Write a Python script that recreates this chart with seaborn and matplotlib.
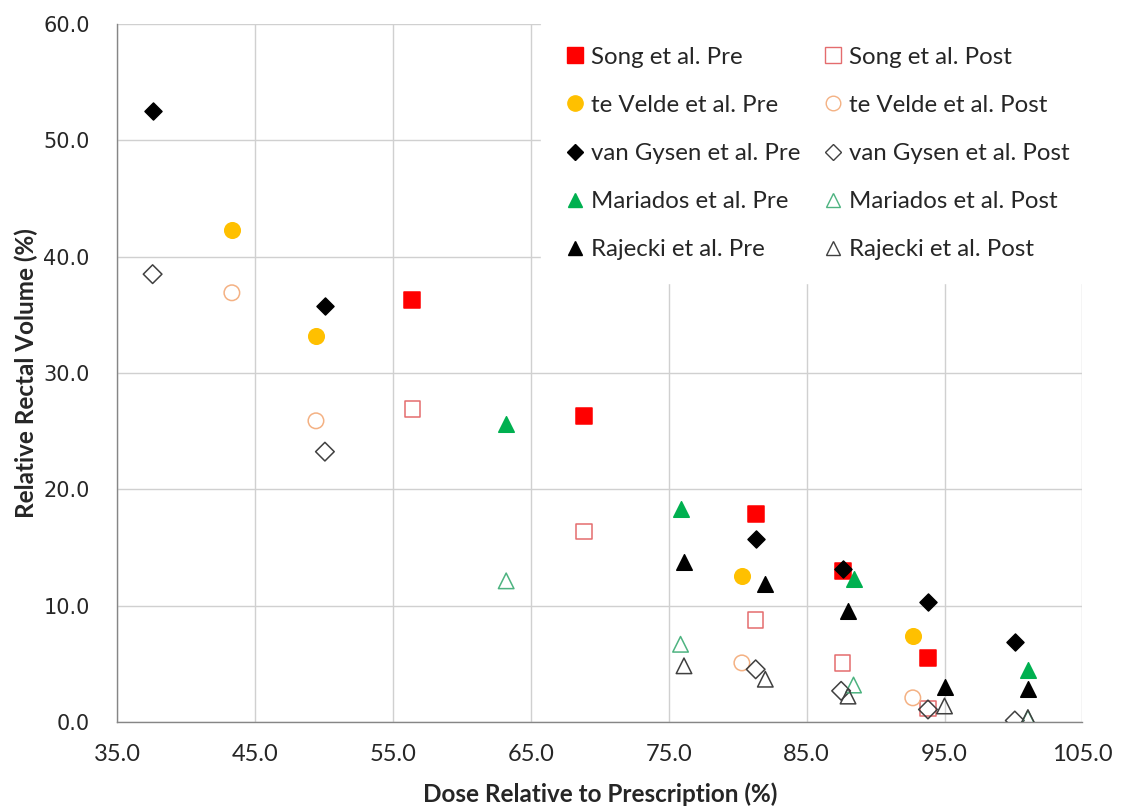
import matplotlib
matplotlib.use("Agg")
import matplotlib.pyplot as plt
import seaborn as sns
import pandas as pd
from matplotlib.lines import Line2D

# ---- data ----
song_pre_x = [56.4, 68.85, 81.3, 87.6, 93.8]
song_pre_y = [36.25, 26.3, 17.9, 13.0, 5.5]
song_post_x = [56.4, 68.85, 81.3, 87.6, 93.8]
song_post_y = [26.9, 16.4, 8.8, 5.1, 1.2]

velde_pre_x = [43.3, 49.4, 80.3, 92.7]
velde_pre_y = [42.3, 33.2, 12.6, 7.4]
velde_post_x = [43.3, 49.4, 80.3, 92.7]
velde_post_y = [36.9, 25.9, 5.1, 2.1]

gysen_pre_x = [37.55, 50.05, 81.3, 87.6, 93.8, 100.1]
gysen_pre_y = [52.5, 35.8, 15.75, 13.15, 10.3, 6.9]
gysen_post_x = [37.55, 50.05, 81.3, 87.5, 93.8, 100.1]
gysen_post_y = [38.5, 23.25, 4.55, 2.7, 1.1, 0.15]

mariados_pre_x = [63.2, 75.85, 88.4, 101.05]
mariados_pre_y = [25.6, 18.3, 12.3, 4.5]
mariados_post_x = [63.2, 75.85, 88.4, 101.05]
mariados_post_y = [12.15, 6.7, 3.2, 0.35]

rajecki_pre_x = [76.1, 82.0, 88.0, 95.0, 101.05]
rajecki_pre_y = [13.75, 11.85, 9.55, 3.05, 2.85]
rajecki_post_x = [76.1, 82.0, 88.0, 95.0, 101.05]
rajecki_post_y = [4.85, 3.7, 2.25, 1.4, 0.4]

x_ticks = [35.0, 45.0, 55.0, 65.0, 75.0, 85.0, 95.0, 105.0]
y_ticks = [0.0, 10.0, 20.0, 30.0, 40.0, 50.0, 60.0]

series = [
    # label, x, y, marker, face, edge, plot size, legend size
    ("Song et al. Pre", song_pre_x, song_pre_y, "s", "#FF0000", "#FF0000", 130, 11.5),
    ("te Velde et al. Pre", velde_pre_x, velde_pre_y, "o", "#FFC000", "#FFC000", 125, 11),
    ("van Gysen et al. Pre", gysen_pre_x, gysen_pre_y, "D", "#000000", "#000000", 75, 8),
    ("Mariados et al. Pre", mariados_pre_x, mariados_pre_y, "^", "#00B050", "#00B050", 125, 10.5),
    ("Rajecki et al. Pre", rajecki_pre_x, rajecki_pre_y, "^", "#000000", "#000000", 125, 10.5),
    ("Song et al. Post", song_post_x, song_post_y, "s", "none", "#E46C6E", 125, 11),
    ("te Velde et al. Post", velde_post_x, velde_post_y, "o", "none", "#F4B183", 125, 10.5),
    ("van Gysen et al. Post", gysen_post_x, gysen_post_y, "D", "none", "#404040", 90, 8.5),
    ("Mariados et al. Post", mariados_post_x, mariados_post_y, "^", "none", "#4DB380", 125, 10.5),
    ("Rajecki et al. Post", rajecki_post_x, rajecki_post_y, "^", "none", "#404040", 125, 10.5),
]

sns.set_style("white")
plt.rcParams["font.family"] = ["DejaVu Sans"]

fig = plt.figure(figsize=(11.23, 8.08), dpi=100)
ax = fig.add_axes([0.1046, 0.1061, 0.8592, 0.8643])

handles = []
for label, xs, ys, mk, fc, ec, s, ls in series:
    df = pd.DataFrame({"x": xs, "y": ys})
    sns.scatterplot(data=df, x="x", y="y", ax=ax, marker=mk, s=s,
                    facecolors=fc, edgecolors=ec, linewidths=1.1,
                    legend=False, zorder=3)
    handles.append(Line2D([], [], linestyle="none", marker=mk,
                          markerfacecolor=fc, markeredgecolor=ec,
                          markeredgewidth=1.0, markersize=ls, label=label))

ax.set_xlim(35, 105)
ax.set_ylim(0, 60)
ax.set_xticks(x_ticks)
ax.set_yticks(y_ticks)
ax.set_xticklabels([f"{v:.1f}" for v in x_ticks], fontfamily="Lato", fontsize=17)
ax.set_yticklabels([f"{v:.1f}" for v in y_ticks], fontfamily="DejaVu Sans", fontsize=15)

ax.grid(True, color="#D0D0D0", linewidth=1.0, zorder=0)
ax.set_axisbelow(True)
for side in ["top", "right"]:
    ax.spines[side].set_visible(False)
for side in ["left", "bottom"]:
    ax.spines[side].set_color("#868686")
    ax.spines[side].set_linewidth(1.0)
ax.tick_params(axis="both", which="both", direction="out", length=6,
               color="#868686", width=1.0)
ax.tick_params(axis="x", pad=10)
ax.tick_params(axis="y", pad=14)

ax.set_xlabel("Dose Relative to Prescription (%)", fontfamily="Lato",
              fontsize=17.5, fontweight="bold", labelpad=12)
ax.set_ylabel("Relative Rectal Volume (%)", fontfamily="Lato",
              fontsize=17.5, fontweight="bold", labelpad=4)

leg = ax.legend(handles=handles, ncol=2, loc="upper left",
                bbox_to_anchor=(0.439, 1.0),
                frameon=True, facecolor="white", edgecolor="white", framealpha=1.0,
                fancybox=False, prop={"family": "Lato", "size": 17.3},
                handlelength=0.9, handletextpad=0.22, columnspacing=0.9,
                labelspacing=1.13, borderpad=0.95, borderaxespad=0.0)
leg.set_zorder(5)

fig.savefig("out.png", dpi=100)
